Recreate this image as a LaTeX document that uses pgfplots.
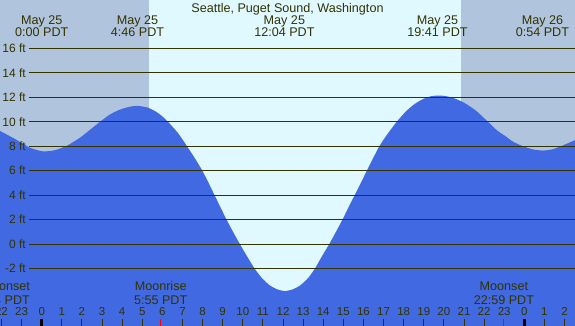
\documentclass[border=0pt]{standalone}
\usepackage{fontspec}
\setmainfont{Liberation Sans}
\usepackage{pgfplots}
\pgfplotsset{compat=1.18}
\usepgfplotslibrary{fillbetween}
\definecolor{night}{RGB}{176,196,222}
\definecolor{day}{RGB}{224,248,255}
\definecolor{water}{RGB}{65,105,225}
\definecolor{ink}{RGB}{51,51,0}
\begin{document}
\begin{tikzpicture}
\begin{axis}[
  width=575pt, height=326pt, scale only axis,
  xmin=-2.074, xmax=26.52, ymin=-6.71, ymax=19.97,
  axis line style={draw=none},
  axis background/.style={fill=day},
  axis on top,
  xtick={-2,-1,1,2,3,4,5,7,8,9,10,11,12,13,14,15,16,17,18,19,20,21,22,25,26},
  xticklabel={},
  ytick=\empty,
  xtick pos=bottom,
  tick align=inside,
  major tick length=7pt,
  tick style={ink, line width=1pt},
  extra x ticks={0,24},
  extra x tick labels={},
  extra x tick style={xticklabel={}, major tick style={black, line width=3.5pt}},
]
% night shading
\addplot[fill=night, draw=none, forget plot, on layer=axis background] coordinates {(-2.3,-7) (-2.3,20.5) (5.336,20.5) (5.336,-7)} -- cycle;
\addplot[fill=night, draw=none, forget plot, on layer=axis background] coordinates {(20.85,-7) (20.85,20.5) (26.8,20.5) (26.8,-7)} -- cycle;
% tide curve (hours, ft)
\addplot[name path=tide, draw=none, smooth, tension=0.4, forget plot] coordinates {
 (-2.3,9.45) (-2.074,9.25) (-1.328,8.6) (-0.582,7.88) (0.065,7.58) (0.661,7.68)
 (1.258,8.05) (1.904,8.7) (2.402,9.35) (2.899,10.0) (3.396,10.6) (3.894,11.0)
 (4.391,11.24) (4.789,11.3) (5.236,11.18) (5.634,10.88) (5.982,10.47) (6.280,10.0)
 (6.778,9.08) (7.225,8.0) (7.623,7.0) (7.971,6.05) (8.270,5.1) (8.593,4.0)
 (8.891,3.0) (9.189,2.0) (9.513,1.0) (9.851,0.0) (10.209,-1.0) (10.582,-2.0)
 (10.955,-2.8) (11.353,-3.4) (11.726,-3.72) (12.099,-3.85) (12.472,-3.72)
 (12.844,-3.4) (13.242,-2.8) (13.590,-2.0) (13.938,-1.0) (14.301,0.0)
 (14.634,1.0) (14.958,2.0) (15.256,3.0) (15.565,4.0) (15.868,5.0) (16.171,6.0)
 (16.475,7.0) (16.788,8.0) (17.195,9.0) (17.653,10.0) (18.116,10.86)
 (18.563,11.48) (19.011,11.9) (19.359,12.09) (19.707,12.15) (20.105,12.1)
 (20.552,11.9) (21.049,11.52) (21.596,10.91) (22.193,10.0) (22.641,9.3)
 (23.038,8.85) (23.436,8.38) (23.933,8.0) (24.430,7.74) (24.928,7.65)
 (25.376,7.74) (25.773,7.97) (26.519,8.5) (26.8,8.75)
};
\addplot[name path=bottom, draw=none, forget plot] coordinates {(-2.3,-7) (26.8,-7)};
\addplot[water, forget plot] fill between[of=tide and bottom];
% horizontal lines
\pgfplotsinvokeforeach{-2,0,...,16}{
  \addplot[ink, line width=1pt, forget plot] coordinates {(-0.632,#1) (26.8,#1)};
  \node[anchor=east, inner sep=0pt, text=ink, font=\fontsize{12}{14}\selectfont] at (axis cs:-0.78,#1) {#1 ft};
}
% moon ticks
\addplot[red, line width=1pt, forget plot] coordinates {(5.917,-6.71) (5.917,-6.14)};
\addplot[red, line width=1pt, forget plot] coordinates {(22.983,-6.71) (22.983,-6.14)};
% hour labels
\pgfplotsinvokeforeach{0,...,23}{
  \node[anchor=base, inner sep=0pt, text=ink, font=\fontsize{11.5}{13}\selectfont] at (axis cs:#1,-5.88) {#1};
}
\node[anchor=base, inner sep=0pt, text=ink, font=\fontsize{11.5}{13}\selectfont] at (axis cs:-2,-5.88) {22};
\node[anchor=base, inner sep=0pt, text=ink, font=\fontsize{11.5}{13}\selectfont] at (axis cs:-1,-5.88) {23};
\node[anchor=base, inner sep=0pt, text=ink, font=\fontsize{11.5}{13}\selectfont] at (axis cs:24,-5.88) {0};
\node[anchor=base, inner sep=0pt, text=ink, font=\fontsize{11.5}{13}\selectfont] at (axis cs:25,-5.88) {1};
\node[anchor=base, inner sep=0pt, text=ink, font=\fontsize{11.5}{13}\selectfont] at (axis cs:26,-5.88) {2};
% title
\node[anchor=base, inner sep=0pt, text=ink, font=\fontsize{12.6}{14}\selectfont] at (axis cs:12.22,18.98) {Seattle, Puget Sound, Washington};
% tide time labels
\node[anchor=base, inner sep=0pt, text=ink, font=\fontsize{12.6}{14}\selectfont] at (axis cs:0,17.99) {May 25};
\node[anchor=base, inner sep=0pt, text=ink, font=\fontsize{12.6}{14}\selectfont] at (axis cs:0,17.01) {0:00 PDT};
\node[anchor=base, inner sep=0pt, text=ink, font=\fontsize{12.6}{14}\selectfont] at (axis cs:4.767,17.99) {May 25};
\node[anchor=base, inner sep=0pt, text=ink, font=\fontsize{12.6}{14}\selectfont] at (axis cs:4.767,17.01) {4:46 PDT};
\node[anchor=base, inner sep=0pt, text=ink, font=\fontsize{12.6}{14}\selectfont] at (axis cs:12.067,17.99) {May 25};
\node[anchor=base, inner sep=0pt, text=ink, font=\fontsize{12.6}{14}\selectfont] at (axis cs:12.067,17.01) {12:04 PDT};
\node[anchor=base, inner sep=0pt, text=ink, font=\fontsize{12.6}{14}\selectfont] at (axis cs:19.683,17.99) {May 25};
\node[anchor=base, inner sep=0pt, text=ink, font=\fontsize{12.6}{14}\selectfont] at (axis cs:19.683,17.01) {19:41 PDT};
\node[anchor=base, inner sep=0pt, text=ink, font=\fontsize{12.6}{14}\selectfont] at (axis cs:24.9,17.99) {May 26};
\node[anchor=base, inner sep=0pt, text=ink, font=\fontsize{12.6}{14}\selectfont] at (axis cs:24.9,17.01) {0:54 PDT};
% moon labels
\node[anchor=base, inner sep=0pt, text=ink, font=\fontsize{12.6}{14}\selectfont] at (axis cs:5.917,-3.83) {Moonrise};
\node[anchor=base, inner sep=0pt, text=ink, font=\fontsize{12.6}{14}\selectfont] at (axis cs:5.917,-4.94) {5:55 PDT};
\node[anchor=base, inner sep=0pt, text=ink, font=\fontsize{12.6}{14}\selectfont] at (axis cs:22.983,-3.83) {Moonset};
\node[anchor=base, inner sep=0pt, text=ink, font=\fontsize{12.6}{14}\selectfont] at (axis cs:22.983,-4.94) {22:59 PDT};
\node[anchor=base east, inner sep=0pt, text=ink, font=\fontsize{12.6}{14}\selectfont] at (axis cs:-0.58,-3.83) {Moonset};
\node[anchor=base east, inner sep=0pt, text=ink, font=\fontsize{12.6}{14}\selectfont] at (axis cs:-0.58,-4.94) {21:54 PDT};
\end{axis}
\pgfresetboundingbox
\useasboundingbox (current axis.south west) rectangle (current axis.north east);
\end{tikzpicture}
\end{document}
